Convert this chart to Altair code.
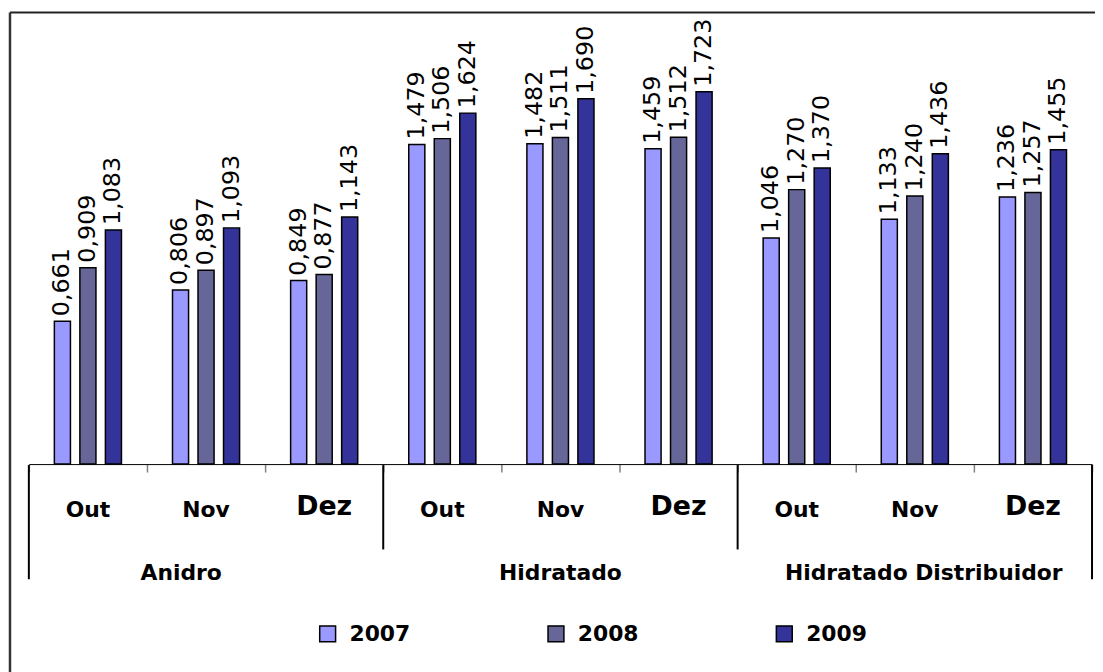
import altair as alt
import pandas as pd

groups = ["Anidro", "Hidratado", "Hidratado Distribuidor"]
months = ["Out", "Nov", "Dez"]
years = ["2007", "2008", "2009"]
v2007 = [0.661, 0.806, 0.849, 1.479, 1.482, 1.459, 1.046, 1.133, 1.236]
v2008 = [0.909, 0.897, 0.877, 1.506, 1.511, 1.512, 1.270, 1.240, 1.257]
v2009 = [1.083, 1.093, 1.143, 1.624, 1.690, 1.723, 1.370, 1.436, 1.455]
colors = ["#9999FF", "#666699", "#333399"]

cats = [f"{g}|{m}" for g in groups for m in months]
rows = []
for y, vals in zip(years, [v2007, v2008, v2009]):
    for c, v in zip(cats, vals):
        rows.append({"cat": c, "year": y, "value": v,
                     "label": f"{v:.3f}".replace(".", ",")})
df = pd.DataFrame(rows)
month_df = pd.DataFrame({"cat": cats, "month": [c.split("|")[1] for c in cats]})

W, H = 1071, 455
FONT = "DejaVu Sans"

axis_x = alt.Axis(
    title=None, labels=False, tickBand="extent",
    tickSize=8, tickColor="#808080", tickWidth=1.5, domainColor="black", domainWidth=1,
)
xscale = alt.Scale(domain=cats, paddingInner=0, paddingOuter=0)


def xenc(band=None):
    if band is None:
        return alt.X("cat:N", sort=cats, scale=xscale, axis=axis_x)
    return alt.X("cat:N", sort=cats, bandPosition=band, scale=xscale, axis=axis_x)


yscale = alt.Scale(domain=[0, 2.09])
xoff = alt.XOffset("year:N", sort=years,
                   scale=alt.Scale(domain=years, paddingInner=0.37, paddingOuter=1))

base = alt.Chart(df)
bars = base.mark_bar(stroke="black", strokeWidth=1.5).encode(
    x=xenc(),
    xOffset=xoff,
    y=alt.Y("value:Q", scale=yscale, axis=None),
    color=alt.Color("year:N", sort=years, scale=alt.Scale(domain=years, range=colors),
                    legend=alt.Legend(
                        title=None, orient="none", legendX=290, legendY=615,
                        direction="horizontal", columns=3, columnPadding=135,
                        symbolType="square", symbolSize=256, symbolStrokeColor="black",
                        symbolStrokeWidth=1.5, symbolOpacity=1, labelOffset=11,
                        labelFont=FONT, labelFontWeight="bold", labelFontSize=22,
                        labelColor="black", padding=0)),
)
labels = base.mark_text(angle=270, align="left", baseline="middle", dx=5,
                        font=FONT, fontSize=24, color="black").encode(
    x=xenc(), xOffset=xoff,
    y=alt.Y("value:Q", scale=yscale, axis=None),
    text="label:N",
)

mchart = alt.Chart(month_df)
month_small = mchart.mark_text(
    font=FONT, fontWeight="bold", fontSize=22, baseline="alphabetic", align="center",
    color="black").encode(x=xenc(), y=alt.value(H + 53), text="month:N"
).transform_filter("datum.month != 'Dez'")
month_big = mchart.mark_text(
    font=FONT, fontWeight="bold", fontSize=27, baseline="alphabetic", align="center",
    color="black").encode(x=xenc(), y=alt.value(H + 51), text="month:N"
).transform_filter("datum.month == 'Dez'")

layers = [bars, labels, month_small, month_big]

# group labels
mid = pd.DataFrame({"cat": [f"{g}|Nov" for g in groups], "name": groups})
for i, dx in enumerate([-25, 0, 9]):
    layers.append(
        alt.Chart(mid.iloc[[i]]).mark_text(font=FONT, fontWeight="bold", fontSize=22,
                                           baseline="alphabetic", align="center", dx=dx,
                                           color="black").encode(
            x=xenc(), y=alt.value(H + 117), text="name:N"))

# group separators
inner = pd.DataFrame({"cat": [f"{g}|Out" for g in groups[1:]]})
layers.append(alt.Chart(inner).mark_rule(color="black", strokeWidth=2).encode(
    x=xenc(0), y=alt.value(H + 1), y2=alt.value(H + 86)))
edges = pd.DataFrame({"cat": [cats[0]]})
layers.append(alt.Chart(edges).mark_rule(color="black", strokeWidth=2).encode(
    x=xenc(0), y=alt.value(H + 1), y2=alt.value(H + 116)))
edges2 = pd.DataFrame({"cat": [cats[-1]]})
layers.append(alt.Chart(edges2).mark_rule(color="black", strokeWidth=2).encode(
    x=xenc(1), y=alt.value(H + 1), y2=alt.value(H + 116)))

# chart-area frame (top and left edges)
frame = pd.DataFrame({"k": [0]})
layers.append(alt.Chart(frame).mark_rule(color="#222222", strokeWidth=2).encode(
    x=alt.value(-19), x2=alt.value(W + 30), y=alt.value(0)))
layers.append(alt.Chart(frame).mark_rule(color="#333333", strokeWidth=2.5).encode(
    x=alt.value(-19), y=alt.value(0), y2=alt.value(H + 230)))

chart = alt.layer(*layers).properties(
    width=W, height=H,
    autosize=alt.AutoSizeParams(type="none"),
    padding={"left": 21, "top": 2, "right": 3, "bottom": 207},
    background="white",
).configure_view(stroke=None)

chart.save("out.html", embed_options={"renderer": "svg", "actions": False})
